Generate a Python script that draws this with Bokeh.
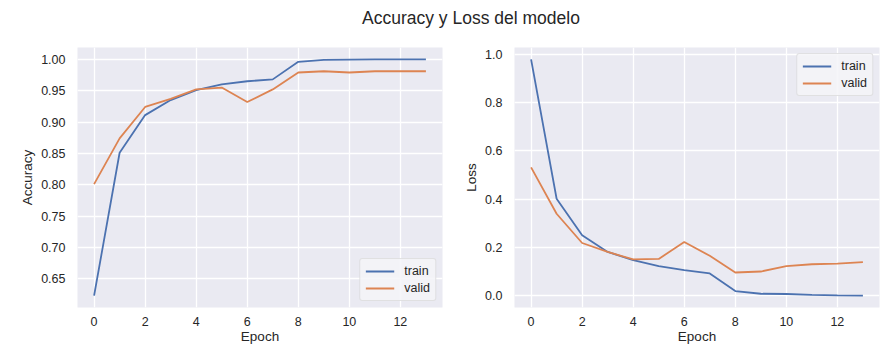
from bokeh.plotting import figure
from bokeh.models import Div, Range1d, FixedTicker, Legend, LegendItem, CustomJSTickFormatter
from bokeh.layouts import column, row
from bokeh.embed import file_html
from bokeh.resources import INLINE

epochs = list(range(14))
acc_train = [0.623, 0.851, 0.911, 0.935, 0.951, 0.960, 0.965, 0.968, 0.996, 0.999, 0.9995, 1.0, 1.0, 1.0]
acc_valid = [0.801, 0.874, 0.924, 0.937, 0.952, 0.955, 0.932, 0.952, 0.979, 0.981, 0.979, 0.981, 0.981, 0.981]
loss_train = [0.978, 0.401, 0.250, 0.181, 0.147, 0.122, 0.106, 0.092, 0.019, 0.008, 0.007, 0.003, 0.001, 0.0]
loss_valid = [0.531, 0.339, 0.218, 0.181, 0.150, 0.152, 0.222, 0.165, 0.096, 0.100, 0.122, 0.130, 0.133, 0.139]
x_ticks = [0, 2, 4, 6, 8, 10, 12]
acc_ticks = [0.65, 0.70, 0.75, 0.80, 0.85, 0.90, 0.95, 1.00]
loss_ticks = [0.0, 0.2, 0.4, 0.6, 0.8, 1.0]

title_text = "Accuracy y Loss del modelo"
BLUE = "#4C72B0"
ORANGE = "#DD8452"
BG = "#EAEAF2"
TXT = "#262626"
FONT = "Liberation Sans"


def padded(vals, frac=0.05):
    lo, hi = min(vals), max(vals)
    m = (hi - lo) * frac
    return lo - m, hi + m


def make_fig(width, height, yvals, yticks, ylabel, fmt_digits, border_left, border_right):
    xr = padded(epochs)
    yr = padded(yvals)
    p = figure(width=width, height=height, output_backend="svg", toolbar_location=None,
               x_range=Range1d(*xr), y_range=Range1d(*yr),
               min_border_left=border_left, min_border_right=border_right,
               min_border_top=17, min_border_bottom=40, margin=0)
    p.background_fill_color = BG
    p.border_fill_color = "white"
    p.outline_line_color = None
    for ax in (p.xaxis[0], p.yaxis[0]):
        ax.axis_line_color = None
        ax.major_tick_line_color = None
        ax.minor_tick_line_color = None
        ax.major_tick_out = 0
        ax.major_tick_in = 0
        ax.minor_tick_out = 0
        ax.minor_tick_in = 0
        ax.major_label_text_font = FONT
        ax.major_label_text_font_size = "12.5px"
        ax.major_label_text_color = TXT
        ax.axis_label_text_font = FONT
        ax.axis_label_text_font_size = "13.5px"
        ax.axis_label_text_font_style = "normal"
        ax.axis_label_text_color = TXT
    p.xaxis[0].ticker = FixedTicker(ticks=x_ticks)
    p.yaxis[0].ticker = FixedTicker(ticks=yticks)
    p.yaxis[0].formatter = CustomJSTickFormatter(code="return tick.toFixed(%d);" % fmt_digits)
    p.xaxis[0].major_label_standoff = 9
    p.yaxis[0].major_label_standoff = 12
    p.xaxis[0].axis_label_standoff = 0
    p.yaxis[0].axis_label_standoff = 3
    p.xaxis[0].axis_label = "Epoch"
    p.yaxis[0].axis_label = ylabel
    p.xgrid.grid_line_color = "white"
    p.ygrid.grid_line_color = "white"
    p.xgrid.grid_line_width = 1.3
    p.ygrid.grid_line_width = 1.3
    return p


def add_lines(p, train, valid, loc):
    r1 = p.line(epochs, train, line_color=BLUE, line_width=1.8)
    r2 = p.line(epochs, valid, line_color=ORANGE, line_width=1.8)
    leg = Legend(items=[LegendItem(label="train", renderers=[r1]),
                        LegendItem(label="valid", renderers=[r2])],
                 location=loc)
    leg.label_text_font = FONT
    leg.label_text_font_size = "12.5px"
    leg.label_text_color = TXT
    leg.background_fill_color = "#F4F4F8"
    leg.background_fill_alpha = 0.85
    leg.border_line_color = "#CCCCCC"
    leg.border_radius = 3
    leg.glyph_width = 29
    leg.glyph_height = 14
    leg.label_standoff = 10
    leg.spacing = 3
    leg.padding = 5
    leg.margin = 6
    p.add_layout(leg)


p1 = make_fig(450, 317, acc_train + acc_valid, acc_ticks, "Accuracy", 2, 77, 8)
add_lines(p1, acc_train, acc_valid, "bottom_right")
p2 = make_fig(434, 317, loss_train + loss_valid, loss_ticks, "Loss", 1, 64, 5)
add_lines(p2, loss_train, loss_valid, "top_right")

title = Div(text='<div style="box-sizing:border-box;width:884px;padding-left:58px;padding-top:8px;'
                 'text-align:center;font-family:\'Liberation Sans\';font-size:17.5px;line-height:20px;'
                 'color:#262626;">' + title_text + '</div>',
            width=884, height=30, margin=0)

layout = column(title, row(p1, p2, margin=0), margin=0)

open("out.html", "w").write(file_html(layout, INLINE))
